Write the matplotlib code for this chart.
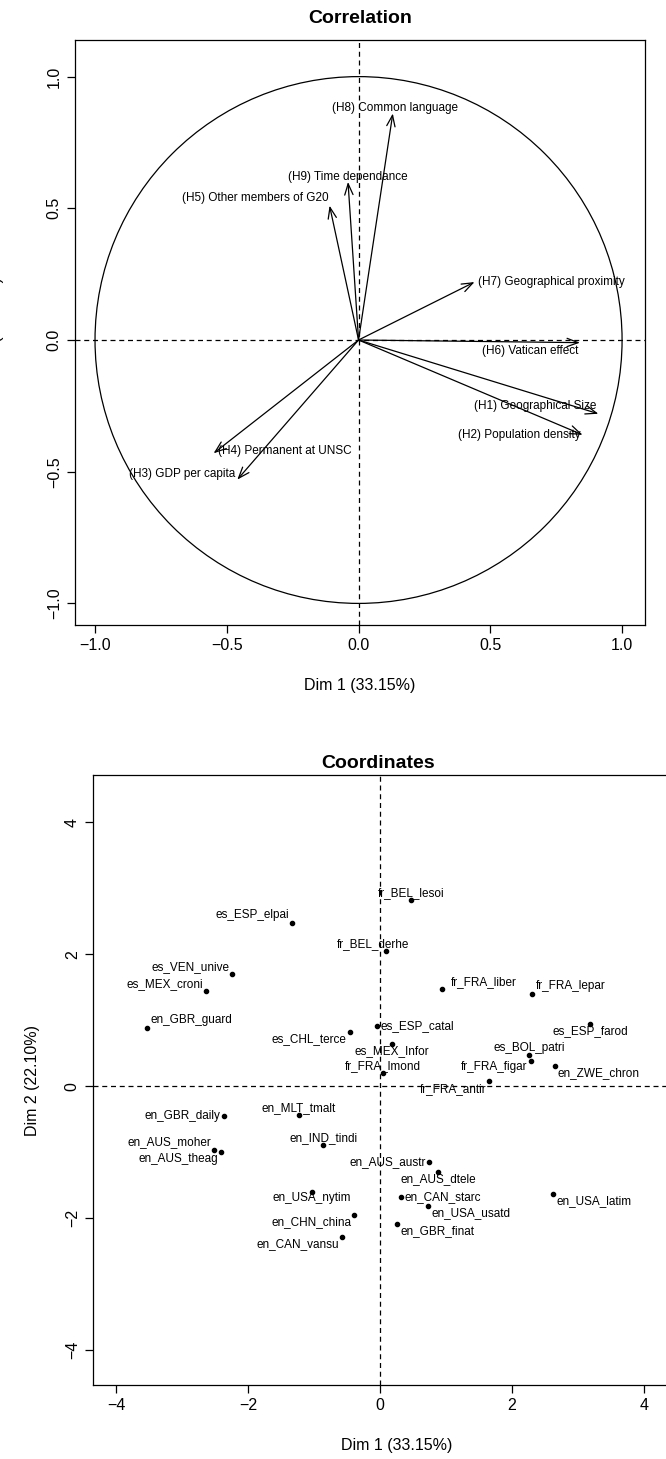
import numpy as np
import matplotlib.pyplot as plt
from matplotlib.patches import Circle

plt.rcParams['font.family'] = ['Liberation Sans', 'DejaVu Sans']

# variables (correlation circle)
var_names = ["(H8) Common language", "(H9) Time dependance", "(H5) Other members of G20",
             "(H7) Geographical proximity", "(H6) Vatican effect", "(H1) Geographical Size",
             "(H2) Population density", "(H4) Permanent at UNSC", "(H3) GDP per capita"]
var_x = [0.13, -0.04, -0.11, 0.44, 0.84, 0.91, 0.85, -0.55, -0.46]
var_y = [0.86, 0.60, 0.51, 0.22, -0.01, -0.28, -0.36, -0.43, -0.53]
# label positions (data coords)
var_lx = [0.137, -0.04, -0.39, 0.73, 0.65, 0.67, 0.61, -0.28, -0.67]
var_ly = [0.88, 0.62, 0.54, 0.22, -0.04, -0.25, -0.36, -0.42, -0.51]

# individuals
ind_names = ["es_ESP_elpai", "fr_BEL_derhe", "es_VEN_unive", "es_MEX_croni", "en_GBR_guard",
             "es_CHL_terce", "es_ESP_catal", "es_MEX_Infor", "fr_FRA_lmond", "en_GBR_daily",
             "en_MLT_tmalt", "en_IND_tindi", "en_AUS_moher", "en_AUS_theag", "en_USA_nytim",
             "en_CHN_china", "en_CAN_vansu", "fr_BEL_lesoi", "fr_FRA_liber", "fr_FRA_lepar",
             "es_ESP_farod", "es_BOL_patri", "fr_FRA_figar", "en_ZWE_chron", "fr_FRA_antir",
             "en_AUS_austr", "en_AUS_dtele", "en_CAN_starc", "en_USA_usatd", "en_GBR_finat",
             "en_USA_latim"]
ind_x = [-1.33, 0.09, -2.24, -2.64, -3.53, -0.45, -0.04, 0.18, 0.05, -2.36,
         -1.23, -0.86, -2.51, -2.41, -1.03, -0.39, -0.58, 0.47, 0.94, 2.30,
         3.18, 2.26, 2.29, 2.65, 1.65, 0.74, 0.88, 0.32, 0.73, 0.26, 2.62]
ind_y = [2.47, 2.05, 1.70, 1.45, 0.88, 0.82, 0.91, 0.64, 0.20, -0.45,
         -0.44, -0.89, -0.96, -0.99, -1.60, -1.95, -2.28, 2.83, 1.48, 1.40,
         0.95, 0.48, 0.39, 0.30, 0.08, -1.15, -1.30, -1.68, -1.81, -2.09, -1.64]
# label centre offsets from the point, in pixels (x right, y up)
lab_dx = [-40, -13, -42, -41, 44, -41, 40, 0, 0, -42, 0, 0, -45, -43, 0, -43, -44,
          0, 42, 39, 0, 0, -37, 44, -36, -41, 0, 42, 43, 40, 41]
lab_dy = [8, 7, 7, 7, 8, -7, 0, -7, 7, 0, 7, 7, 7, -7, -6, -7, -7,
          7, 7, 8, -7, 7, -6, -7, -8, 0, -7, 0, -7, -7, -7]

W, H = 666, 1459
fig = plt.figure(figsize=(W / 100, H / 100), dpi=100)


def box(l, t, r, b):
    return [l / W, 1 - b / H, (r - l) / W, (b - t) / H]


def rstyle(ax):
    for s in ax.spines.values():
        s.set_linewidth(0.9)
    ax.tick_params(direction='out', length=6, width=0.9, labelsize=11.5)
    for lab in ax.get_yticklabels():
        lab.set_rotation(90)
        lab.set_va('center')


# ---- correlation circle
ax1 = fig.add_axes(box(75, 40, 645, 625))
ax1.set_xlim(-1.076, 1.087)
ax1.set_ylim(-1.082, 1.139)
ax1.add_patch(Circle((0, 0), 1, fill=False, color='black', lw=0.9))
ax1.axhline(0, ls='--', color='black', lw=0.9, dashes=(4, 3))
ax1.axvline(0, ls='--', color='black', lw=0.9, dashes=(4, 3))
for name, x, y, lx, ly in zip(var_names, var_x, var_y, var_lx, var_ly):
    ax1.annotate('', xy=(x, y), xytext=(0, 0),
                 arrowprops=dict(arrowstyle='->,head_length=0.8,head_width=0.3', lw=0.9, color='black',
                                 shrinkA=0, shrinkB=0))
    ax1.text(lx, ly, name, fontsize=8.5, ha='center', va='center')
ax1.set_xticks([-1.0, -0.5, 0.0, 0.5, 1.0])
ax1.set_yticks([-1.0, -0.5, 0.0, 0.5, 1.0])
ax1.set_title('Correlation', fontsize=14, fontweight='bold', pad=12)
ax1.set_xlabel('Dim 1 (33.15%)', fontsize=11.5, labelpad=18)
ax1.set_ylabel('Dim 2 (22.10%)', fontsize=11.5, labelpad=18)
rstyle(ax1)
ax1.yaxis.set_label_coords(-0.125, 0.5)

# ---- individuals
ax2 = fig.add_axes(box(93, 775, 700, 1385))
ax2.set_xlim(-4.35, 4.85)
ax2.set_ylim(-4.53, 4.72)
ax2.axhline(0, color='black', lw=0.9, dashes=(4, 3))
ax2.axvline(0, color='black', lw=0.9, dashes=(4, 3))
ax2.scatter(ind_x, ind_y, s=9, color='black', zorder=3)
for name, x, y, dx, dy in zip(ind_names, ind_x, ind_y, lab_dx, lab_dy):
    ax2.annotate(name, (x, y), xytext=(dx, dy), textcoords='offset pixels',
                 fontsize=8.5, ha='center', va='center')
ax2.set_xticks([-4, -2, 0, 2, 4])
ax2.set_yticks([-4, -2, 0, 2, 4])
ax2.set_title('Coordinates', fontsize=14, fontweight='bold', pad=5)
ax2.title.set_position((0.47, 1.0))
ax2.set_xlabel('Dim 1 (33.15%)', fontsize=11.5, labelpad=18)
ax2.set_ylabel('Dim 2 (22.10%)', fontsize=11.5, labelpad=18)
rstyle(ax2)

fig.savefig('out.png', dpi=100)
